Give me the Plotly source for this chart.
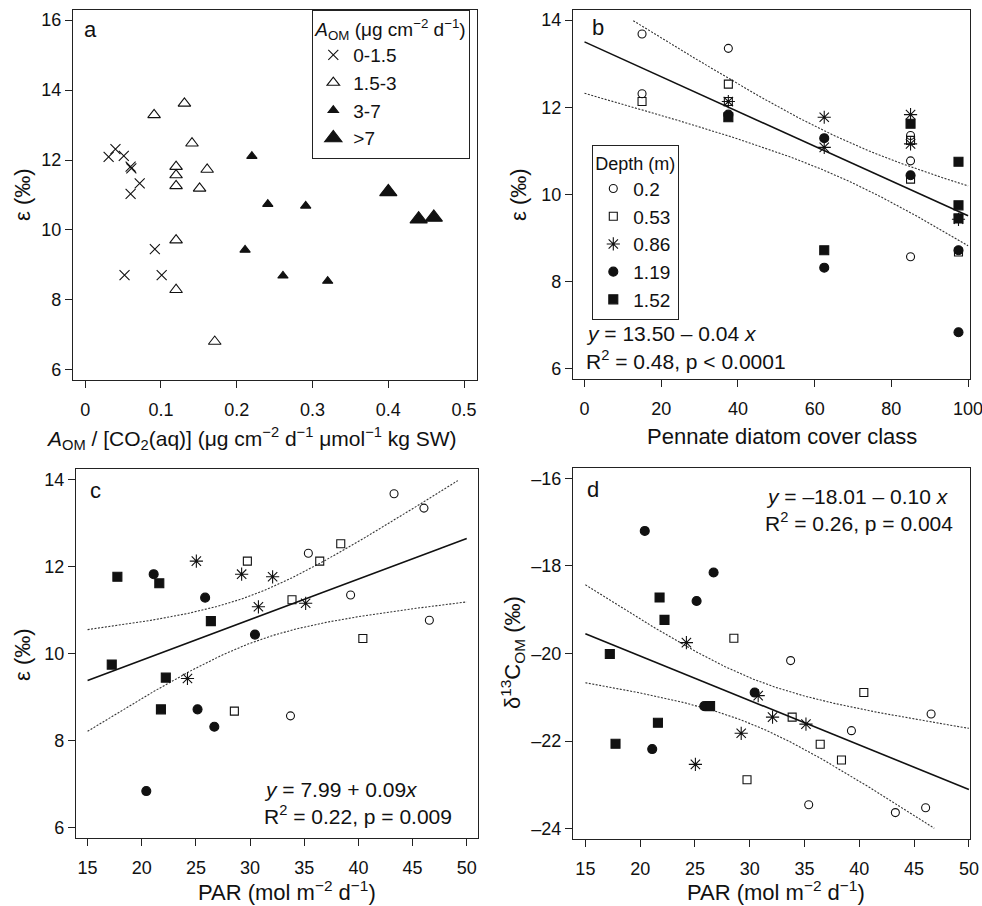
import numpy as np
import plotly.graph_objects as go

# ---------------- Panel a data ----------------
a_x_low = [0.031, 0.040, 0.051, 0.060, 0.061, 0.072, 0.060, 0.092, 0.052, 0.101]
a_y_low = [12.09, 12.31, 12.12, 11.81, 11.76, 11.33, 11.03, 9.45, 8.71, 8.71]
a_x_mid = [0.091, 0.131, 0.141, 0.120, 0.120, 0.120, 0.161, 0.151, 0.120, 0.120, 0.171]
a_y_mid = [13.29, 13.62, 12.48, 11.81, 11.57, 11.26, 11.73, 11.19, 9.71, 8.29, 6.81]
a_x_high = [0.220, 0.241, 0.291, 0.211, 0.261, 0.320]
a_y_high = [12.11, 10.74, 10.69, 9.43, 8.69, 8.54]
a_x_vhigh = [0.400, 0.440, 0.460]
a_y_vhigh = [11.09, 10.31, 10.36]
a_labels = ["0-1.5", "1.5-3", "3-7", ">7"]

# ---------------- Panels b-d data (per depth) ----------------
depth_labels = ["0.2", "0.53", "0.86", "1.19", "1.52"]

par_020 = [35.38, 43.29, 46.05, 39.28, 46.55, 33.73]
eps_020 = [12.31, 13.68, 13.35, 11.35, 10.77, 8.57]
d13c_020 = [-23.45, -23.63, -23.52, -21.76, -21.38, -20.16]
cover_020 = [15, 15, 37.5, 85, 85, 85]

par_053 = [29.75, 36.43, 38.37, 33.87, 40.41, 28.55]
eps_053 = [12.13, 12.13, 12.53, 11.24, 10.35, 8.68]
d13c_053 = [-22.88, -22.07, -22.43, -21.45, -20.89, -19.65]
cover_053 = [15, 37.5, 37.5, 85, 85, 97.5]

par_086 = [25.04, 29.22, 32.08, 35.13, 30.77, 24.22]
eps_086 = [12.13, 11.83, 11.77, 11.16, 11.08, 9.43]
d13c_086 = [-22.53, -21.82, -21.45, -21.61, -20.96, -19.75]
cover_086 = [37.5, 85, 62.5, 85, 62.5, 97.5]

par_119 = [20.42, 21.10, 25.15, 25.85, 26.70, 30.45]
eps_119 = [6.84, 11.83, 8.72, 11.29, 8.32, 10.44]
d13c_119 = [-17.20, -22.18, -18.80, -21.20, -18.15, -20.89]
cover_119 = [97.5, 37.5, 97.5, 62.5, 62.5, 85]

par_152 = [17.75, 21.62, 26.38, 17.23, 22.22, 21.77]
eps_152 = [11.77, 11.62, 10.75, 9.75, 9.45, 8.72]
d13c_152 = [-22.06, -21.58, -21.20, -20.01, -19.23, -18.72]
cover_152 = [37.5, 85, 97.5, 97.5, 97.5, 62.5]

pars = [par_020, par_053, par_086, par_119, par_152]
epss = [eps_020, eps_053, eps_086, eps_119, eps_152]
d13cs = [d13c_020, d13c_053, d13c_086, d13c_119, d13c_152]
covers = [cover_020, cover_053, cover_086, cover_119, cover_152]

FONT = "Liberation Sans, Arial, Helvetica, sans-serif"
INK = "#111111"
W, H = 982, 906


def X(px):
    return px / W


def Y(py):
    return 1 - py / H


depth_symbols = ["circle-open", "square-open", "asterisk-open", "circle", "square"]
depth_sizes = [8, 8, 11, 9, 9]

fig = go.Figure()

# ---------- panel a ----------
a_sets = [(a_x_low, a_y_low, "x-thin-open", 10),
          (a_x_mid, a_y_mid, "triangle-up-open", 11),
          (a_x_high, a_y_high, "triangle-up", 9),
          (a_x_vhigh, a_y_vhigh, "triangle-up", 15)]
for (xs, ys, sym, sz), lab in zip(a_sets, a_labels):
    fig.add_trace(go.Scatter(
        x=xs, y=ys, mode="markers", name=lab, xaxis="x", yaxis="y",
        legend="legend",
        marker=dict(symbol=sym, size=sz, color=INK, line=dict(color=INK, width=1.1))))


def regression(x, y, xmin, xmax, ylo, yhi):
    x = np.asarray(x, float)
    y = np.asarray(y, float)
    n = len(x)
    b1, b0 = np.polyfit(x, y, 1)
    res = y - (b0 + b1 * x)
    s = np.sqrt(np.sum(res ** 2) / (n - 2))
    sxx = np.sum((x - x.mean()) ** 2)
    t = 2.048  # t(0.975, df=28)
    g = np.linspace(xmin, xmax, 300)
    fit = b0 + b1 * g
    half = t * s * np.sqrt(1.0 / n + (g - x.mean()) ** 2 / sxx)
    up = fit + half
    lo = fit - half
    up = np.where((up > yhi) | (up < ylo), np.nan, up)
    lo = np.where((lo > yhi) | (lo < ylo), np.nan, lo)
    return g, fit, up, lo


def add_reg(x, y, xmin, xmax, ylo, yhi, xa, ya):
    g, fit, up, lo = regression(x, y, xmin, xmax, ylo, yhi)
    for band in (up, lo):
        fig.add_trace(go.Scatter(x=g, y=band, mode="lines", xaxis=xa, yaxis=ya,
                                 showlegend=False, hoverinfo="skip",
                                 line=dict(color="#333333", width=1.1, dash="2px,1.5px")))
    fig.add_trace(go.Scatter(x=g, y=fit, mode="lines", xaxis=xa, yaxis=ya,
                             showlegend=False, hoverinfo="skip",
                             line=dict(color=INK, width=1.6)))


all_cover = sum(covers, [])
all_eps = sum(epss, [])
all_par = sum(pars, [])
all_d13c = sum(d13cs, [])

add_reg(all_cover, all_eps, 0, 100, 6, 14, "x2", "y2")
add_reg(all_par, all_eps, 15, 50, 6, 14, "x3", "y3")
add_reg(all_par, all_d13c, 15, 50, -24, -16, "x4", "y4")

for i, lab in enumerate(depth_labels):
    mk = dict(symbol=depth_symbols[i], size=depth_sizes[i], color=INK,
              line=dict(color=INK, width=1.1))
    fig.add_trace(go.Scatter(x=covers[i], y=epss[i], mode="markers", name=lab,
                             xaxis="x2", yaxis="y2", legend="legend2", marker=mk))
    fig.add_trace(go.Scatter(x=pars[i], y=epss[i], mode="markers", name=lab,
                             xaxis="x3", yaxis="y3", showlegend=False, marker=mk))
    fig.add_trace(go.Scatter(x=pars[i], y=d13cs[i], mode="markers", name=lab,
                             xaxis="x4", yaxis="y4", showlegend=False, marker=mk))

axis_common = dict(showline=True, linecolor="#222222", linewidth=1.3, mirror=True,
                   ticks="outside", ticklen=7, tickwidth=1.2, tickcolor="#222222",
                   showgrid=False, zeroline=False, automargin=False,
                   ticklabeloverflow="allow",
                   tickfont=dict(family=FONT, size=18, color=INK))

a_xt = [0, 0.1, 0.2, 0.3, 0.4, 0.5]
a_xl = ["0", "0.1", "0.2", "0.3", "0.4", "0.5"]
eps_t = [6, 8, 10, 12, 14, 16]
d_t = [-24, -22, -20, -18, -16]
d_l = ["\u201324", "\u201322", "\u201320", "\u201318", "\u201316"]

fig.update_layout(
    width=W, height=H, margin=dict(l=0, r=0, t=0, b=0, autoexpand=False),
    paper_bgcolor="white", plot_bgcolor="white",
    font=dict(family=FONT, color=INK),
    xaxis=dict(domain=[X(73), X(477)], range=[-0.016, 0.517], anchor="y",
               tickvals=a_xt, ticktext=a_xl, ticklabelstandoff=6, **axis_common),
    yaxis=dict(domain=[Y(380), Y(10)], range=[5.71, 16.29], anchor="x",
               tickvals=eps_t, **axis_common),
    xaxis2=dict(domain=[X(573), X(970)], range=[-3.0, 100.5], anchor="y2",
                tickvals=[0, 20, 40, 60, 80, 100], ticklabelstandoff=6, **axis_common),
    yaxis2=dict(domain=[Y(379.3), Y(10)], range=[5.76, 14.23], anchor="x2",
                tickvals=[6, 8, 10, 12, 14], **axis_common),
    xaxis3=dict(domain=[X(76), X(478)], range=[13.93, 51.04], anchor="y3",
                tickvals=[15, 20, 25, 30, 35, 40, 45, 50], ticklabelstandoff=6, **axis_common),
    yaxis3=dict(domain=[Y(838), Y(469)], range=[5.76, 14.25], anchor="x3",
                tickvals=[6, 8, 10, 12, 14], **axis_common),
    xaxis4=dict(domain=[X(573), X(970)], range=[13.87, 50.1], anchor="y4",
                tickvals=[15, 20, 25, 30, 35, 40, 45, 50], ticklabelstandoff=6, **axis_common),
    yaxis4=dict(domain=[Y(839.3), Y(468.3)], range=[-24.24, -15.77], anchor="x4",
                tickvals=d_t, ticktext=d_l, **axis_common),
    legend=dict(x=X(312), y=Y(10), xanchor="left", yanchor="top",
                bgcolor="white", bordercolor="#222222", borderwidth=1.3,
                font=dict(family=FONT, size=19, color=INK),
                title=dict(text="<i>A</i><sub>OM</sub> (\u03bcg cm<sup>\u22122</sup> d<sup>\u22121</sup>)",
                           font=dict(family=FONT, size=19, color=INK)),
                tracegroupgap=0, itemsizing="trace"),
    legend2=dict(x=X(592), y=Y(145), xanchor="left", yanchor="top",
                 bgcolor="white", bordercolor="#222222", borderwidth=1.3,
                 font=dict(family=FONT, size=19, color=INK),
                 title=dict(text="Depth (m)", font=dict(family=FONT, size=18, color=INK)),
                 tracegroupgap=0, itemsizing="trace"),
)

ann = []


def text(px, py, s, size, xanchor="center", yanchor="middle", angle=0):
    ann.append(dict(x=X(px), y=Y(py), xref="paper", yref="paper", text=s,
                    showarrow=False, xanchor=xanchor, yanchor=yanchor, textangle=angle,
                    font=dict(family=FONT, size=size, color=INK)))


# axis titles
text(251, 439, "<i>A</i><sub>OM</sub> / [CO<sub>2</sub>(aq)] (\u03bcg cm<sup>\u22122</sup> d<sup>\u22121</sup> "
     "\u03bcmol<sup>\u22121</sup> kg SW)", 21)
text(782, 436, "Pennate diatom cover class", 22)
text(287, 891, "PAR (mol m<sup>\u22122</sup> d<sup>\u22121</sup>)", 22)
text(776, 891, "PAR (mol m<sup>\u22122</sup> d<sup>\u22121</sup>)", 22)
text(22, 195, "\u03b5 (\u2030)", 22, angle=-90)
text(518, 195, "\u03b5 (\u2030)", 22, angle=-90)
text(22, 655, "\u03b5 (\u2030)", 22, angle=-90)
text(512, 652, "\u03b4<sup>13</sup>C<sub>OM</sub> (\u2030)", 22, angle=-90)

# panel letters
text(90, 29, "a", 22)
text(598, 27, "b", 22)
text(95, 490, "c", 22)
text(593, 489, "d", 22)

# equations
text(584, 333, "<i>y</i> = 13.50 \u2013 0.04 <i>x</i>", 21, xanchor="left")
text(584, 360, "R<sup>2</sup> = 0.48, p &lt; 0.0001", 21, xanchor="left")
text(262, 789, "<i>y</i> = 7.99 + 0.09<i>x</i>", 21, xanchor="left")
text(262, 815, "R<sup>2</sup> = 0.22, p = 0.009", 21, xanchor="left")
text(764, 496, "<i>y</i> = \u201318.01 \u2013 0.10 <i>x</i>", 21, xanchor="left")
text(763, 522, "R<sup>2</sup> = 0.26, p = 0.004", 21, xanchor="left")

fig.update_layout(annotations=ann)

fig.write_html(
    "out.html",
    config={"displayModeBar": False},
    post_script="document.body.style.margin='0';document.body.style.padding='0';"
                "document.body.style.overflow='hidden';",
)
